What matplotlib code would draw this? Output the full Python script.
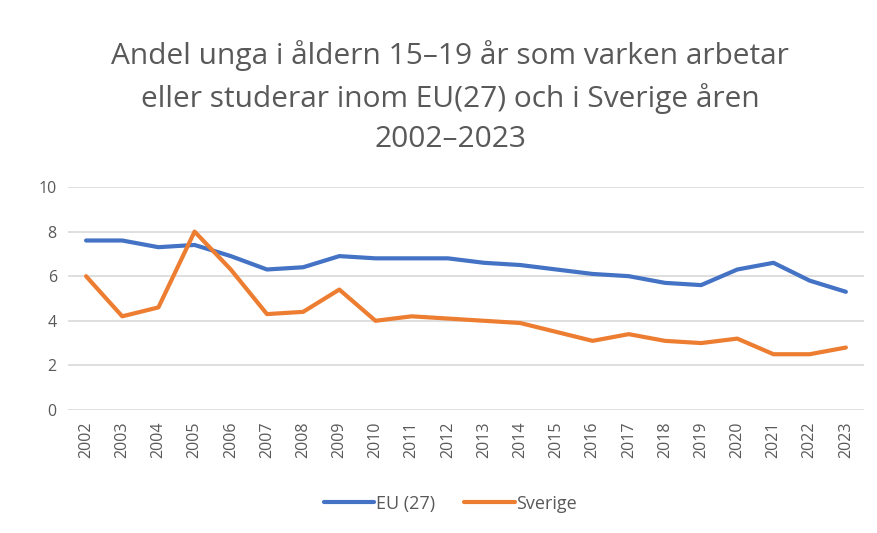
import matplotlib.pyplot as plt

years = [str(y) for y in range(2002, 2024)]
eu = [7.6, 7.6, 7.3, 7.4, 6.9, 6.3, 6.4, 6.9, 6.8, 6.8, 6.8, 6.6, 6.5, 6.3,
      6.1, 6.0, 5.7, 5.6, 6.3, 6.6, 5.8, 5.3]
sverige = [6.0, 4.2, 4.6, 8.0, 6.3, 4.3, 4.4, 5.4, 4.0, 4.2, 4.1, 4.0, 3.9, 3.5,
           3.1, 3.4, 3.1, 3.0, 3.2, 2.5, 2.5, 2.8]
title = "Andel unga i åldern 15–19 år som varken arbetar\neller studerar inom EU(27) och i Sverige åren\n2002–2023"

plt.rcParams['font.family'] = ['Open Sans', 'DejaVu Sans']
gray = '#595959'

fig = plt.figure(figsize=(8.78, 5.33), dpi=100)
ax = fig.add_axes([0.0774, 0.2308, 0.9066, 0.4184])

x = range(len(years))
ax.plot(x, eu, color='#4472C4', lw=3, label='EU (27)', solid_capstyle='round')
ax.plot(x, sverige, color='#ED7D31', lw=3, label='Sverige', solid_capstyle='round')

ax.set_ylim(0, 10)
ax.set_yticks([0, 2, 4, 6, 8, 10])
ax.set_xlim(-0.5, len(years) - 0.5)
ax.set_xticks(list(x))
ax.set_xticklabels(years, rotation=90)
ax.grid(axis='y', color='#D9D9D9', lw=1.2)
ax.set_axisbelow(True)
for s in ax.spines.values():
    s.set_visible(False)
ax.tick_params(length=0, colors=gray, labelsize=11.5, pad=8)

fig.text(0.513, 0.925, title, ha='center', va='top', fontsize=21.5, color=gray,
         linespacing=1.5)

fig.legend(loc='center', bbox_to_anchor=(0.513, 0.055), ncol=2, frameon=False,
           fontsize=13, labelcolor=gray, handlelength=2.8, handletextpad=0.1,
           columnspacing=1.6)

fig.savefig('out.png', dpi=100)
